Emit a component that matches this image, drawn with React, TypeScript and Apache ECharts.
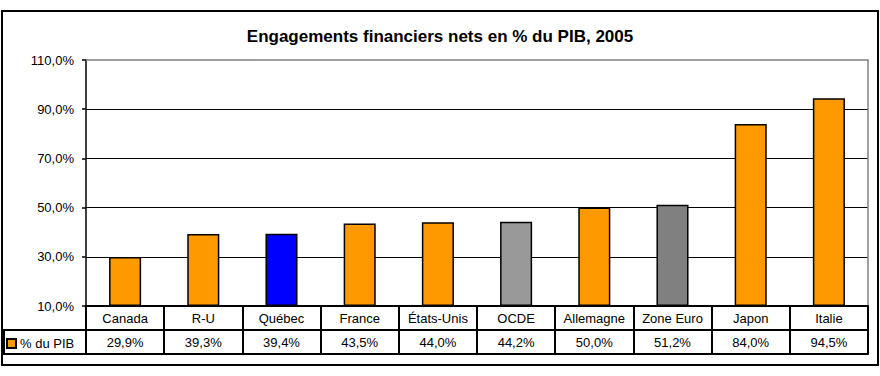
import React, { useEffect, useRef } from "react";
import * as echarts from "echarts";

const categories = ["Canada", "R-U", "Québec", "France", "États-Unis", "OCDE", "Allemagne", "Zone Euro", "Japon", "Italie"];
const values = [29.9, 39.3, 39.4, 43.5, 44.0, 44.2, 50.0, 51.2, 84.0, 94.5];
const barColors = ["#FF9900", "#FF9900", "#0000FF", "#FF9900", "#FF9900", "#999999", "#FF9900", "#808080", "#FF9900", "#FF9900"];
const yMin = 10;
const yMax = 110;
const yStep = 20;
const seriesName = "% du PIB";
const titleText = "Engagements financiers nets en % du PIB, 2005";

const FONT = "Liberation Sans, Arial, sans-serif";
const fmt = (v: number) => v.toFixed(1).replace(".", ",") + "%";

export default function App() {
  const ref = useRef<HTMLDivElement>(null);
  useEffect(() => {
    if (!ref.current) return;
    const chart = echarts.init(ref.current, undefined, { renderer: "svg" });
    const gridLeft = 86, gridRight = 12, gridTop = 60, gridBottom = 70;
    const rowH = 24;
    const axisBottomY = 376 - gridBottom;
    const common = { fontFamily: FONT, fontSize: 13, color: "#000" };
    chart.setOption({
      animation: false,
      backgroundColor: "#fff",
      textStyle: { fontFamily: FONT },
      title: {
        text: titleText,
        left: "center",
        top: 23,
        textStyle: { fontFamily: FONT, fontSize: 17, fontWeight: "bold", color: "#000" },
      },
      legend: {
        data: [seriesName],
        left: 6,
        top: axisBottomY + rowH + 7,
        icon: "rect",
        itemWidth: 9,
        itemHeight: 9,
        itemGap: 4,
        textStyle: { ...common, padding: [0, 0, 0, -1] },
        padding: 0,
      },
      grid: { left: gridLeft, right: gridRight, top: gridTop, bottom: gridBottom, containLabel: false },
      xAxis: [
        {
          type: "category",
          data: categories,
          position: "bottom",
          axisLine: { show: true, onZero: false, lineStyle: { color: "#000", width: 2 } },
          axisTick: { show: true, length: rowH, interval: 0, alignWithLabel: false, lineStyle: { color: "#000", width: 2 } },
          axisLabel: { ...common, margin: 6, interval: 0 },
          splitLine: { show: false },
        },
        {
          type: "category",
          data: categories,
          position: "bottom",
          offset: rowH,
          axisLine: { show: true, onZero: false, lineStyle: { color: "#000", width: 2 } },
          axisTick: { show: true, length: rowH, interval: 0, alignWithLabel: false, lineStyle: { color: "#000", width: 2 } },
          axisLabel: { ...common, margin: 6, interval: 0, formatter: (_v: string, i: number) => fmt(values[i]) },
          splitLine: { show: false },
        },
        {
          type: "category",
          data: categories,
          position: "bottom",
          offset: rowH * 2,
          axisLine: { show: true, onZero: false, lineStyle: { color: "#000", width: 2 } },
          axisTick: { show: false },
          axisLabel: { show: false },
        },
        {
          type: "category",
          data: categories,
          position: "top",
          axisLine: { show: true, onZero: false, lineStyle: { color: "#808080", width: 1.5 } },
          axisTick: { show: false },
          axisLabel: { show: false },
        },
      ],
      yAxis: [
        {
          type: "value",
          min: 0,
          max: yMax - yMin,
          interval: yStep,
          axisLine: { show: true, onZero: false, lineStyle: { color: "#000", width: 1.5 } },
          axisTick: { show: true, length: 4, lineStyle: { color: "#000", width: 1.5 } },
          axisLabel: { ...common, margin: 12, formatter: (v: number) => fmt(v + yMin) },
          splitLine: { show: true, showMaxLine: false, showMinLine: false, lineStyle: { color: "#000", width: 1.2 } },
        },
        {
          type: "value",
          position: "right",
          min: 0,
          max: yMax - yMin,
          interval: yStep,
          axisLine: { show: true, onZero: false, lineStyle: { color: "#808080", width: 1.5 } },
          axisTick: { show: false },
          axisLabel: { show: false },
          splitLine: { show: false },
        },
      ],
      series: [
        {
          name: seriesName,
          type: "bar",
          xAxisIndex: 0,
          yAxisIndex: 0,
          barWidth: "41%",
          itemStyle: { color: "#FF9900", borderColor: "#000", borderWidth: 1.5 },
          data: values.map((v, i) => ({ value: v - yMin, itemStyle: { color: barColors[i] } })),
        },
      ],
      graphic: [
        {
          type: "rect",
          shape: { x: 2, y: 11, width: 876, height: 354 },
          style: { fill: "none", stroke: "#000", lineWidth: 2 },
          silent: true,
        },
        {
          type: "rect",
          shape: { x: 4, y: axisBottomY + rowH, width: gridLeft - 4, height: rowH },
          style: { fill: "none", stroke: "#000", lineWidth: 2 },
          silent: true,
        },
      ],
    });
    return () => chart.dispose();
  }, []);
  return <div ref={ref} style={{ position: "fixed", left: 0, top: 0, width: 880, height: 376 }} />;
}
